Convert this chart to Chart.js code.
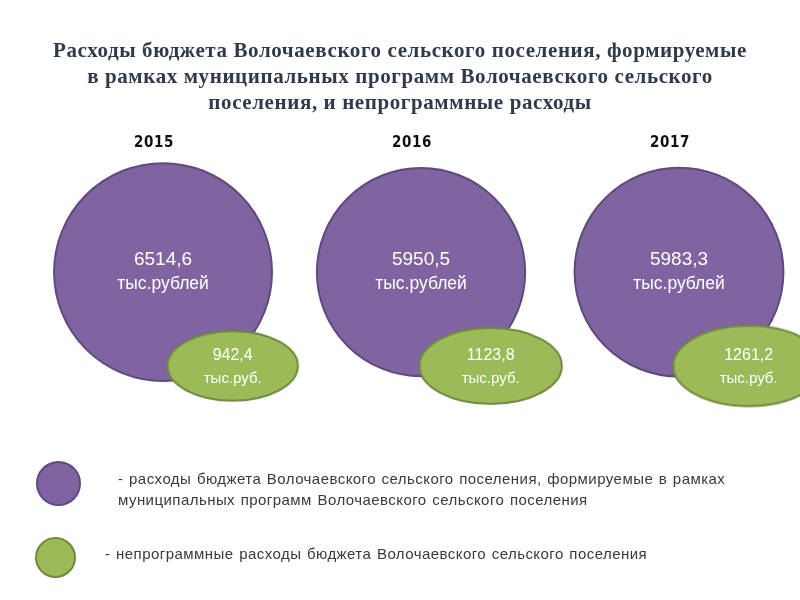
<!DOCTYPE html>
<html>
<head>
<meta charset="utf-8">
<script src="https://cdn.jsdelivr.net/npm/chart.js@4.4.1/dist/chart.umd.min.js"></script>
<style>
	body { margin: 0; background: #fff; }
	#wrap { position: relative; width: 800px; height: 600px; overflow: hidden; }
	.punto { position: absolute; border-radius: 50%; box-sizing: border-box; }
	.morado { background: #8064a2; border: 2px solid #5f4a7d; }
	.verde { background: #9bbb59; border: 2px solid #71893f; }
	.texto { position: absolute; font-family: 'Liberation Sans', Arial, sans-serif; font-size: 15px; letter-spacing: 0.45px; word-spacing: 1px; color: #3a3a3a; line-height: 21px; white-space: nowrap; }
</style>
</head>
<body>
<div id="wrap">
	<canvas id="graficaRasxody" width="800" height="600"></canvas>
	<div class="punto morado" style="left:36px; top:461px; width:45px; height:45px;"></div>
	<div class="texto" style="left:118px; top:468px;">- расходы бюджета Волочаевского сельского поселения, формируемые в рамках<br>муниципальных программ Волочаевского сельского поселения</div>
	<div class="punto verde" style="left:35px; top:537px; width:41px; height:41px;"></div>
	<div class="texto" style="left:105px; top:543px;">- непрограммные расходы бюджета Волочаевского сельского поселения</div>
</div>
<script>
	// datos
	const anios = ['2015', '2016', '2017'];
	const programas = [6514.6, 5950.5, 5983.3];
	const noProgramas = [942.4, 1123.8, 1261.2];

	const titulo = [
		'Расходы бюджета Волочаевского сельского поселения, формируемые',
		'в рамках муниципальных программ Волочаевского сельского',
		'поселения, и непрограммные расходы'
	];

	function formato(v) {
		return v.toFixed(1).replace('.', ',');
	}

	// elipse verde como imagen del punto
	function elipse(r) {
		let rx = r * 1.37;
		let ry = r * 0.73;
		let c = document.createElement('canvas');
		c.width = Math.ceil(rx * 2 + 4);
		c.height = Math.ceil(ry * 2 + 4);
		let g = c.getContext('2d');
		g.beginPath();
		g.ellipse(c.width / 2, c.height / 2, rx, ry, 0, 0, Math.PI * 2);
		g.fillStyle = '#9bbb59';
		g.fill();
		g.lineWidth = 2;
		g.strokeStyle = '#71893f';
		g.stroke();
		return c;
	}

	let datosPrograma = new Array();
	let datosNoPrograma = new Array();
	for (let i = 0; i < anios.length; i++) {
		datosPrograma.push({ x: i, y: 0.622, r: Math.sqrt(programas[i]) * 1.35 });
		datosNoPrograma.push({ x: i + 0.27, y: 0.294, r: Math.sqrt(noProgramas[i]) * 1.55 });
	}

	const etiquetas = {
		id: 'etiquetas',
		beforeDraw(chart) {
			chart.ctx.letterSpacing = '0.6px';
		},
		beforeDatasetsDraw(chart) {
			chart.ctx.letterSpacing = '0px';
		},
		afterDatasetsDraw(chart) {
			const ctx = chart.ctx;
			ctx.save();
			ctx.fillStyle = '#ffffff';
			ctx.textAlign = 'center';
			ctx.textBaseline = 'middle';
			chart.getDatasetMeta(0).data.forEach((el, i) => {
				ctx.font = '19px "Liberation Sans", Arial';
				ctx.fillText(formato(programas[i]), el.x, el.y - 12);
				ctx.font = '17.5px "Liberation Sans", Arial';
				ctx.fillText('тыс.рублей', el.x, el.y + 12);
			});
			chart.getDatasetMeta(1).data.forEach((el, i) => {
				ctx.font = '16px "Liberation Sans", Arial';
				ctx.fillText(formato(noProgramas[i]), el.x, el.y - 10);
				ctx.font = '15px "Liberation Sans", Arial';
				ctx.fillText('тыс.руб.', el.x, el.y + 13);
			});
			ctx.restore();
		}
	};

	new Chart(document.getElementById('graficaRasxody'), {
		type: 'bubble',
		data: {
			datasets: [{
				label: 'Программные',
				data: datosPrograma,
				backgroundColor: '#8064a2',
				borderColor: '#5f4a7d',
				borderWidth: 2,
				order: 2,
				clip: false
			}, {
				label: 'Непрограммные',
				data: datosNoPrograma,
				pointStyle: c => elipse(c.raw.r),
				order: 1,
				clip: false
			}]
		},
		options: {
			responsive: false,
			animation: false,
			events: [],
			layout: { autoPadding: false, padding: { left: 0, right: 0, top: 0, bottom: 150 } },
			plugins: {
				legend: { display: false },
				tooltip: { enabled: false },
				title: {
					display: true,
					text: titulo,
					color: '#2f3b4c',
					font: { family: '"Liberation Serif", serif', size: 21, weight: 'bold', lineHeight: 1.238 },
					padding: { top: 39, bottom: 7 }
				}
			},
			scales: {
				x: {
					type: 'linear',
					position: 'top',
					min: -0.632,
					max: 2.469,
					afterBuildTicks: axis => { axis.ticks = anios.map((a, i) => ({ value: i })); },
					afterFit: axis => { axis.height = 40; },
					ticks: {
						callback: v => anios[v],
						color: '#111',
						font: { family: '"Liberation Sans Narrow", "DejaVu Sans Condensed", Arial', size: 15, weight: 'bold' },
						padding: 4,
						labelOffset: -9,
						maxRotation: 0
					},
					grid: { display: false },
					border: { display: false }
				},
				y: { display: false, min: 0, max: 1 }
			}
		},
		plugins: [etiquetas]
	});
</script>
</body>
</html>
